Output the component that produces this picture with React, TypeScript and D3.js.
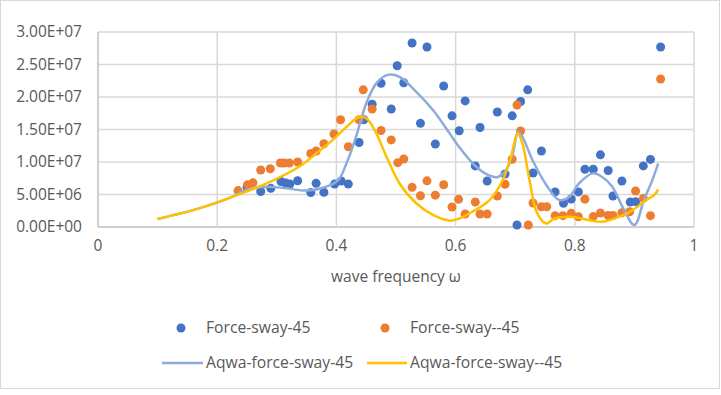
import React from "react";
import * as d3 from "d3";

// ---- data ----
const blueFreq = [0.250,0.273,0.290,0.307,0.315,0.322,0.335,0.357,0.366,0.379,0.397,0.408,0.420,0.438,0.446,0.460,0.475,0.492,0.502,0.513,0.527,0.541,0.552,0.566,0.580,0.594,0.606,0.616,0.633,0.641,0.653,0.670,0.683,0.695,0.703,0.709,0.721,0.730,0.744,0.767,0.781,0.794,0.806,0.817,0.831,0.843,0.856,0.864,0.879,0.893,0.902,0.915,0.927,0.944];
const blueVal = [6.15,5.46,5.95,7.0,6.77,6.6,7.12,5.3,6.72,5.34,6.6,7.08,6.6,13.0,16.5,18.9,22.1,18.15,24.8,22.2,28.3,15.95,27.7,12.77,21.7,17.1,14.8,19.4,9.4,15.3,7.08,17.7,8.15,17.1,0.3,19.3,21.1,8.3,11.7,5.4,3.65,4.3,5.4,8.88,8.88,11.1,8.7,4.77,7.08,3.85,3.9,9.4,10.4,27.7];

const orangeFreq = [0.235,0.251,0.260,0.273,0.289,0.306,0.312,0.321,0.335,0.357,0.366,0.379,0.396,0.407,0.420,0.438,0.445,0.460,0.475,0.492,0.503,0.513,0.527,0.541,0.552,0.566,0.580,0.594,0.605,0.616,0.633,0.641,0.653,0.670,0.683,0.695,0.703,0.709,0.722,0.730,0.744,0.753,0.767,0.780,0.794,0.806,0.817,0.831,0.843,0.856,0.864,0.879,0.892,0.902,0.915,0.927,0.944];
const orangeVal = [5.6,6.5,6.8,8.77,8.97,9.85,9.85,9.85,10.0,11.3,11.7,12.8,14.3,16.5,12.35,16.5,21.1,18.15,14.85,13.4,9.9,10.46,6.1,4.8,7.1,4.9,6.5,3.08,4.26,2.0,3.85,2.0,2.0,4.77,6.58,10.43,18.77,14.77,0.3,3.7,3.12,3.12,1.74,1.74,2.1,1.58,4.28,1.6,2.15,1.77,1.77,2.2,2.35,5.54,4.4,1.74,22.77];

const aqwaBlueFreq = [0.1,0.171,0.227,0.243,0.283,0.316,0.350,0.383,0.403,0.417,0.433,0.450,0.467,0.486,0.506,0.534,0.562,0.590,0.606,0.634,0.657,0.671,0.685,0.696,0.705,0.712,0.729,0.752,0.774,0.791,0.807,0.830,0.846,0.863,0.880,0.900,0.916,0.930,0.940];
const aqwaBlueVal = [1.23,2.9,4.7,5.5,6.2,5.95,5.6,6.2,7.2,9.8,13.9,19.0,22.1,23.4,23.1,20.8,18.0,14.4,12.3,9.3,7.9,7.7,8.8,11.3,14.7,13.9,10.3,6.5,4.15,4.65,6.7,8.25,7.7,6.2,3.1,0.3,4.15,7.2,9.8];

const aqwaYellowFreq = [0.1,0.171,0.227,0.283,0.338,0.366,0.394,0.417,0.433,0.442,0.453,0.467,0.484,0.506,0.534,0.562,0.590,0.606,0.628,0.657,0.679,0.693,0.704,0.712,0.724,0.737,0.752,0.766,0.796,0.824,0.846,0.874,0.897,0.919,0.933,0.940];
const aqwaYellowVal = [1.23,2.9,4.7,6.7,9.3,11.3,13.4,15.4,16.7,17.0,16.5,14.4,10.8,6.7,3.65,1.85,0.97,1.3,2.35,4.15,7.2,10.8,14.4,12.9,7.2,2.1,0.55,1.3,1.55,1.05,0.8,1.55,2.6,4.1,4.9,5.8];

const xTicks = [0, 0.2, 0.4, 0.6, 0.8, 1];
const xTickLabels = ["0", "0.2", "0.4", "0.6", "0.8", "1"];
const yTicks = [0, 5e6, 1e7, 1.5e7, 2e7, 2.5e7, 3e7];
const yTickLabels = ["0.00E+00", "5.00E+06", "1.00E+07", "1.50E+07", "2.00E+07", "2.50E+07", "3.00E+07"];
const seriesNames = ["Force-sway-45", "Force-sway--45", "Aqwa-force-sway-45", "Aqwa-force-sway--45"];
const xTitle = "wave frequency ω";

const SCALE = 1e6;

export default function App() {
  const W = 721, H = 395;
  const x = d3.scaleLinear().domain([0, 1]).range([98, 694]);
  const y = d3.scaleLinear().domain([0, 3e7]).range([227, 32]);
  const font = "'Open Sans', sans-serif";
  const textColor = "#595959";
  const blue = "#4472C4", orange = "#ED7D31", lblue = "#8FAADC", yellow = "#FFC000";

  const line = d3.line<[number, number]>()
    .x(d => x(d[0])).y(d => y(d[1] * SCALE))
    .curve(d3.curveCatmullRom.alpha(0.5));

  const bluePts = blueFreq.map((f, i) => [f, blueVal[i]] as [number, number]);
  const orangePts = orangeFreq.map((f, i) => [f, orangeVal[i]] as [number, number]);
  const aqB = aqwaBlueFreq.map((f, i) => [f, aqwaBlueVal[i]] as [number, number]);
  const aqY = aqwaYellowFreq.map((f, i) => [f, aqwaYellowVal[i]] as [number, number]);

  return (
    <svg width={W} height={H} style={{ position: "absolute", left: 0, top: 0, background: "#fff" }}>
      <rect x={0.5} y={0.5} width={719} height={388} fill="#fff" stroke="#d9d9d9" strokeWidth={1} />
      {/* grid */}
      {yTicks.map((t, i) => (
        <line key={"gy" + i} x1={x(0)} x2={x(1)} y1={y(t)} y2={y(t)} stroke={i === 0 ? "#bfbfbf" : "#d9d9d9"} strokeWidth={1.5} />
      ))}
      {xTicks.map((t, i) => (
        <line key={"gx" + i} x1={x(t)} x2={x(t)} y1={y(0)} y2={y(3e7)} stroke={i === 0 ? "#bfbfbf" : "#d9d9d9"} strokeWidth={1.5} />
      ))}
      {/* y tick labels */}
      {yTicks.map((t, i) => (
        <text key={"ty" + i} x={82} y={y(t)} dy="0.35em" textAnchor="end" fontFamily={font} fontSize={15.5} fill={textColor}>{yTickLabels[i]}</text>
      ))}
      {xTicks.map((t, i) => (
        <text key={"tx" + i} x={x(t)} y={246} dy="0.35em" textAnchor="middle" fontFamily={font} fontSize={15.5} fill={textColor}>{xTickLabels[i]}</text>
      ))}
      <text x={(x(0) + x(1)) / 2} y={277} dy="0.35em" textAnchor="middle" fontFamily={font} fontSize={15.5} fill={textColor}>{xTitle}</text>

      {/* markers */}
      {bluePts.map((p, i) => <circle key={"b" + i} cx={x(p[0])} cy={y(p[1] * SCALE)} r={4.5} fill={blue} />)}
      {orangePts.map((p, i) => <circle key={"o" + i} cx={x(p[0])} cy={y(p[1] * SCALE)} r={4.5} fill={orange} />)}
      {/* lines */}
      <path d={line(aqB) || ""} fill="none" stroke={lblue} strokeWidth={2.5} strokeLinejoin="round" />
      <path d={line(aqY) || ""} fill="none" stroke={yellow} strokeWidth={2.5} strokeLinejoin="round" />

      {/* legend */}
      <circle cx={181} cy={328} r={4.5} fill={blue} />
      <text x={206} y={328} dy="0.35em" fontFamily={font} fontSize={15.7} fill={textColor}>{seriesNames[0]}</text>
      <circle cx={385} cy={328} r={4.5} fill={orange} />
      <text x={410} y={328} dy="0.35em" fontFamily={font} fontSize={15.7} fill={textColor}>{seriesNames[1]}</text>
      <line x1={162} x2={203} y1={363} y2={363} stroke={lblue} strokeWidth={2.5} />
      <text x={206} y={363} dy="0.35em" fontFamily={font} fontSize={15.7} fill={textColor}>{seriesNames[2]}</text>
      <line x1={367} x2={407} y1={363} y2={363} stroke={yellow} strokeWidth={2.5} />
      <text x={410} y={363} dy="0.35em" fontFamily={font} fontSize={15.7} fill={textColor}>{seriesNames[3]}</text>
    </svg>
  );
}
